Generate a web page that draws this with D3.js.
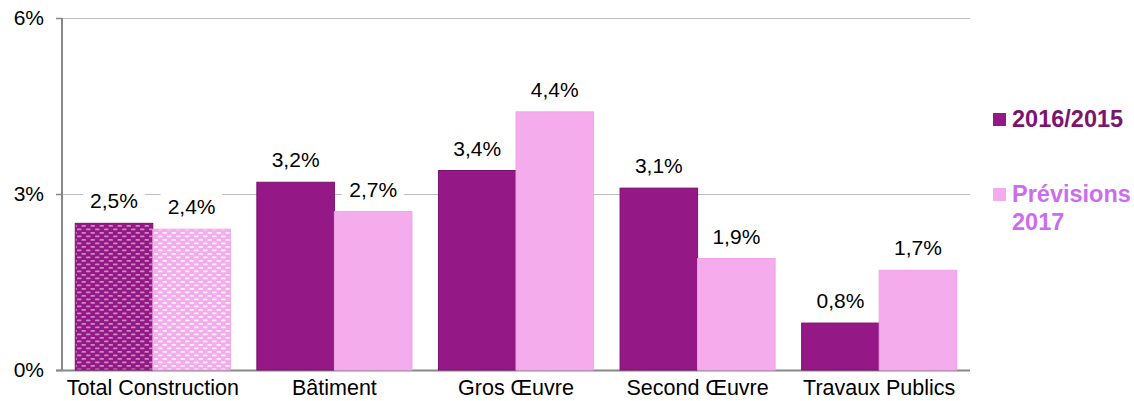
<!DOCTYPE html>
<html>
<head>
<meta charset="utf-8">
<script src="https://cdn.jsdelivr.net/npm/d3@7"></script>
<style>
  body { margin: 0; background: #fff; }
  text { font-family: "Liberation Sans", Arial, sans-serif; }
</style>
</head>
<body>
<div id="chart"></div>
<script>
const categories = ["Total Construction", "Bâtiment", "Gros Œuvre", "Second Œuvre", "Travaux Publics"];
const seriesNames = ["2016/2015", "Prévisions 2017"];
const values2016 = [2.5, 3.2, 3.4, 3.1, 0.8];
const values2017 = [2.4, 2.7, 4.4, 1.9, 1.7];
const yTicks = [0, 3, 6];

const width = 1134,
    height = 401;

const fills = ["#951887", "#f5aced"],
    strokes = ["#7a1070", "#f0a2e8"],
    legendText = ["#7d1470", "#cc6cee"];

const svg = d3.select("#chart")
    .append("svg")
    .attr("width", width)
    .attr("height", height);

// patterns for the "Total Construction" bars
const defs = svg.append("defs");
fills.forEach(function (c, i) {
  const p = defs.append("pattern")
      .attr("id", "pat" + i)
      .attr("patternUnits", "userSpaceOnUse")
      .attr("width", 9)
      .attr("height", 7);
  p.append("rect").attr("width", 9).attr("height", 7).attr("fill", c);
  const dash = i === 0 ? "rgba(255,255,255,0.5)" : "rgba(255,255,255,0.9)";
  [[0.5, 1], [5, 4.5], [-4, 4.5]].forEach(function (d) {
    p.append("rect").attr("x", d[0]).attr("y", d[1])
        .attr("width", 4.5).attr("height", 1.8).attr("rx", 0.9)
        .attr("fill", dash);
  });
});

const x = d3.scaleBand()
    .domain(categories)
    .range([62, 970])
    .paddingInner(0.146)
    .paddingOuter(0.073);

const xs = d3.scaleBand()
    .domain(seriesNames)
    .range([0, x.bandwidth()]);

const y = d3.scaleLinear()
    .domain([0, 6])
    .range([370, 18]);

const fmt = function (v) { return d3.format(".1f")(v).replace(".", ",") + "%"; };

// gridlines
svg.selectAll(".grid")
    .data(yTicks)
    .enter().append("line")
    .attr("x1", 56)
    .attr("x2", 970)
    .attr("y1", function (d) { return y(d) + 0.5; })
    .attr("y2", function (d) { return y(d) + 0.5; })
    .style("stroke", function (d) { return d === 0 ? "#888" : "#bdbdbd"; })
    .style("stroke-width", function (d) { return d === 0 ? 2 : 1.2; });

svg.selectAll(".ytick")
    .data(yTicks)
    .enter().append("line")
    .attr("x1", 56).attr("x2", 62)
    .attr("y1", function (d) { return y(d) + 0.5; })
    .attr("y2", function (d) { return y(d) + 0.5; })
    .style("stroke", "#888")
    .style("stroke-width", 1.5);

svg.append("line")
    .attr("x1", 62).attr("x2", 62)
    .attr("y1", y(6)).attr("y2", y(0) + 1)
    .style("stroke", "#888")
    .style("stroke-width", 2);

svg.selectAll(".ylabel")
    .data(yTicks)
    .enter().append("text")
    .attr("x", 44)
    .attr("y", function (d) { return y(d) + 7; })
    .attr("text-anchor", "end")
    .style("font-size", "21px")
    .style("fill", "#000")
    .text(function (d) { return d + "%"; });

svg.selectAll(".xlabel")
    .data(categories)
    .enter().append("text")
    .attr("x", function (d) { return x(d) + x.bandwidth() / 2; })
    .attr("y", 395)
    .attr("text-anchor", "middle")
    .style("font-size", "21.5px")
    .style("fill", "#000")
    .text(function (d) { return d; });

// bars
const rows = [];
categories.forEach(function (c, i) {
  rows.push({ cat: c, s: 0, v: values2016[i], idx: i });
  rows.push({ cat: c, s: 1, v: values2017[i], idx: i });
});

svg.selectAll(".bar")
    .data(rows)
    .enter().append("rect")
    .attr("x", function (d) { return x(d.cat) + xs(seriesNames[d.s]); })
    .attr("y", function (d) { return y(d.v); })
    .attr("width", xs.bandwidth())
    .attr("height", function (d) { return y(0) - y(d.v); })
    .style("fill", function (d) { return d.idx === 0 ? "url(#pat" + d.s + ")" : fills[d.s]; })
    .style("stroke", function (d) { return strokes[d.s]; })
    .style("stroke-width", 1);

// value labels on a white box
const lab = svg.selectAll(".vlabel")
    .data(rows)
    .enter().append("g")
    .attr("transform", function (d) {
      return "translate(" + (x(d.cat) + xs(seriesNames[d.s]) + xs.bandwidth() / 2) + "," + (y(d.v) - 15) + ")";
    });

lab.append("rect")
    .attr("x", -31).attr("y", -22)
    .attr("width", 62).attr("height", 30)
    .style("fill", "#fff");

lab.append("text")
    .attr("text-anchor", "middle")
    .style("font-size", "21px")
    .style("fill", "#000")
    .text(function (d) { return fmt(d.v); });

// legend
const legY = [113, 188];
const leg = svg.selectAll(".legend")
    .data(seriesNames)
    .enter().append("g")
    .attr("transform", function (d, i) { return "translate(993," + legY[i] + ")"; });

leg.append("rect")
    .attr("width", 13).attr("height", 13)
    .style("fill", function (d, i) { return fills[i]; });

leg.append("text")
    .attr("x", 19)
    .attr("y", 14)
    .style("font-size", "23.5px")
    .style("font-weight", "bold")
    .style("fill", function (d, i) { return legendText[i]; })
    .each(function (d) {
      const words = d.split(" ");
      const t = d3.select(this);
      words.forEach(function (w, k) {
        t.append("tspan").attr("x", 19).attr("dy", k === 0 ? 0 : 28).text(w);
      });
    });
</script>
</body>
</html>
